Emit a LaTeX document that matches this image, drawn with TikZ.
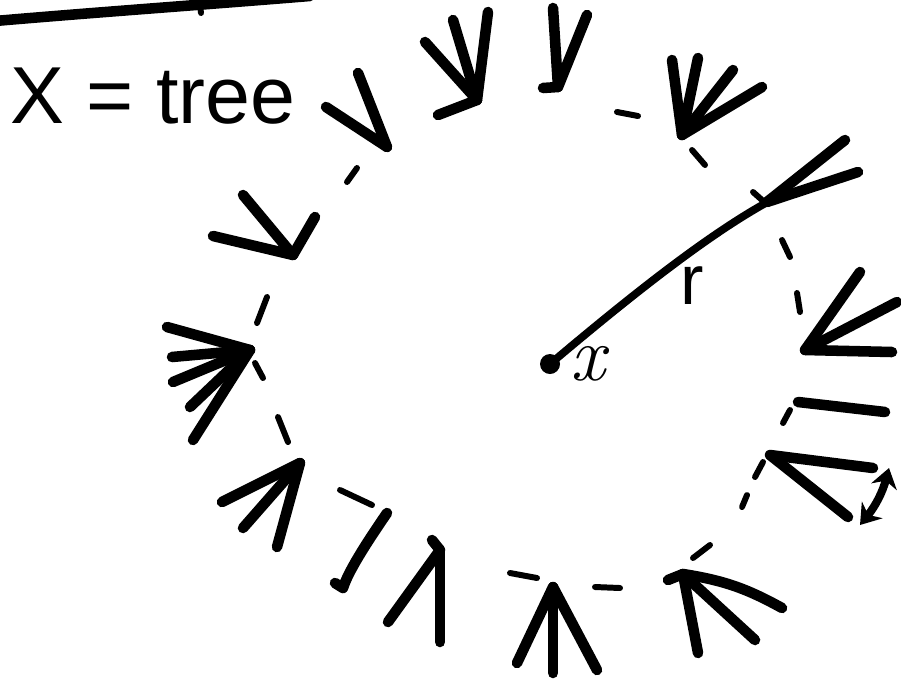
\documentclass[tikz,border=0pt]{standalone}
\usepackage{fontspec}
\setsansfont{Liberation Sans}
\usetikzlibrary{arrows.meta}
\tikzstyle{branch} = [line width=6pt, line cap=round, line join=round]
\tikzstyle{rim} = [line width=3.4pt, line cap=round]
\tikzstyle{spoke} = [line width=4.4pt, line cap=round]
\tikzstyle{label} = [inner sep=0pt, font=\sffamily\fontsize{40}{44}\selectfont]

\begin{document}
\begin{tikzpicture}[x=0.02cm, y=-0.02cm]
  \useasboundingbox (0,0) rectangle (901,683);

  % heading
  \draw[branch] (-5,21) .. controls (100,12) and (200,5) .. (310,-4);
  \draw[rim] (200,5) -- (201,13);
  \node[label, font=\sffamily\fontsize{46}{50}\selectfont, anchor=base west] (title) at (10,123) {X = tree};

  % centre and radius
  \coordinate (x) at (550,364);
  \coordinate (edge) at (764,204);
  \fill (x) circle (10);
  \draw[spoke] (x) .. controls (620,305) and (700,240) .. (edge);
  \node[label] (rlabel) at (692,286) {r};
  \node[label, font=\itshape\fontsize{44}{48}\selectfont] (xlabel) at (588,364) {x};

  % dashed rim
  \foreach \a/\b in {{(347,182)}/{(357,168)}, {(257,323)}/{(267,297)}, {(255,363)}/{(263,378)},
                     {(278,417)}/{(288,442)}, {(340,490)}/{(372,505)}, {(510,573)}/{(537,578)},
                     {(595,587)}/{(620,588)}, {(693,558)}/{(710,545)}, {(742,507)}/{(747,495)},
                     {(755,477)}/{(763,462)}, {(783,423)}/{(790,410)}, {(797,293)}/{(800,312)},
                     {(782,240)}/{(790,257)}, {(753,192)}/{(762,200)}, {(692,150)}/{(705,165)},
                     {(617,112)}/{(638,116)}}
    \draw[rim] \a -- \b;

  % trees round the rim
  \coordinate (t1) at (387,147);
  \foreach \p in {(326,107),(358,73)} \draw[branch] (t1) -- \p;
  \coordinate (t2) at (293,255);
  \foreach \p in {(213,236),(243,195),(315,217)} \draw[branch] (t2) -- \p;
  \coordinate (t3) at (477,100);
  \foreach \p in {(425,42),(453,20),(488,12),(438,115)} \draw[branch] (t3) -- \p;
  \coordinate (t4) at (558,87);
  \foreach \p in {(553,8),(587,15),(543,88)} \draw[branch] (t4) -- \p;
  \coordinate (t5) at (682,135);
  \foreach \p in {(672,60),(698,58),(733,70),(762,87)} \draw[branch] (t5) -- \p;
  \coordinate (t6) at (767,202);
  \foreach \p in {(845,140),(858,172)} \draw[branch] (t6) -- \p;
  \coordinate (t7) at (805,350);
  \foreach \p in {(860,272),(897,302),(892,352)} \draw[branch] (t7) -- \p;
  \draw[branch] (798,402) -- (885,412);
  \coordinate (t9) at (770,455);
  \foreach \p in {(873,468),(848,517)} \draw[branch] (t9) -- \p;
  \draw[branch, line width=4.6pt, {Stealth[length=11pt,width=15pt]}-{Stealth[length=11pt,width=15pt]}]
    (889,468) to[bend left=12] (860,525);
  \coordinate (t10) at (683,574);
  \foreach \p in {(698,653),(755,640),(668,580)} \draw[branch] (t10) -- \p;
  \draw[branch] (t10) to[bend left=10] (782,608);
  \coordinate (t11) at (553,587);
  \foreach \p in {(517,663),(553,673),(597,670)} \draw[branch] (t11) -- \p;
  \coordinate (t12) at (440,550);
  \foreach \p in {(388,622),(440,642),(432,540)} \draw[branch] (t12) -- \p;
  \draw[branch] (387,513) .. controls (365,545) and (348,572) .. (343,588) -- (335,583);
  \coordinate (t14) at (300,463);
  \foreach \p in {(222,502),(243,528),(277,547)} \draw[branch] (t14) -- \p;
  \coordinate (t15) at (250,350);
  \foreach \p in {(167,327),(172,357),(173,382),(190,407),(193,440)} \draw[branch] (t15) -- \p;
\end{tikzpicture}
\end{document}
